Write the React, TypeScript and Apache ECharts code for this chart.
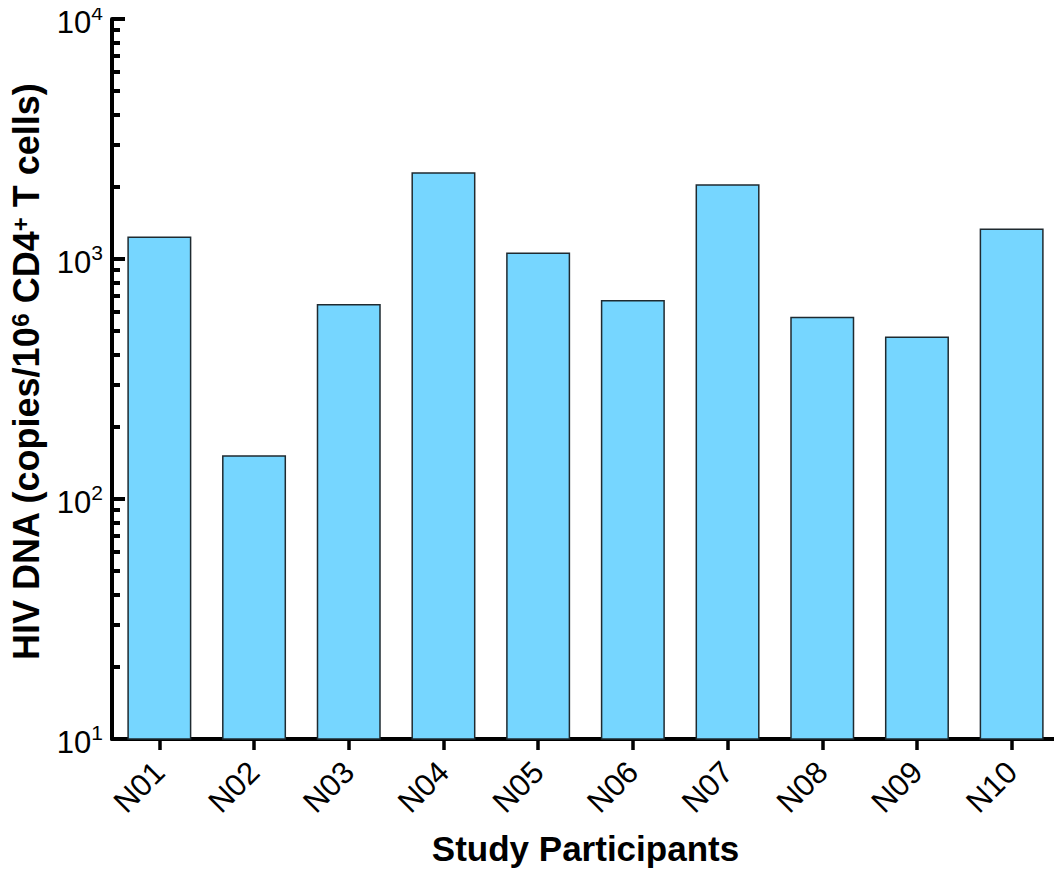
import React, { useEffect, useRef } from "react";
import * as echarts from "echarts";

const categories = ["N01", "N02", "N03", "N04", "N05", "N06", "N07", "N08", "N09", "N10"];
const hivDna = [1240, 152, 650, 2300, 1065, 675, 2050, 575, 475, 1340];
const minorMultipliers = [2, 3, 4, 5, 6, 7, 8, 9];
const minorDecades = [10, 100, 1000];

const FONT = "'Liberation Sans', Arial, Helvetica, sans-serif";

export default function App() {
  const ref = useRef<HTMLDivElement>(null);
  useEffect(() => {
    if (!ref.current) return;
    const chart = echarts.init(ref.current, null, { renderer: "svg" });
    const minorExp: number[] = [];
    minorDecades.forEach((d) => minorMultipliers.forEach((m) => minorExp.push(Math.log10(m * d))));
    chart.setOption({
      animation: false,
      backgroundColor: "#fff",
      grid: { left: 108, right: 3, top: 15, bottom: 128, containLabel: false },
      xAxis: {
        type: "category",
        data: categories,
        axisLine: { show: true, lineStyle: { color: "#000", width: 4 } },
        axisTick: { show: true, alignWithLabel: true, length: 11, lineStyle: { color: "#000", width: 3.5 } },
        axisLabel: { rotate: 45, fontSize: 31, color: "#000", margin: 28, fontFamily: FONT },
        name: "Study Participants",
        nameLocation: "middle",
        nameGap: 92,
        nameTextStyle: { fontSize: 35, fontWeight: "bold", color: "#000", fontFamily: FONT },
      },
      yAxis: [
        {
          type: "log",
          logBase: 10,
          min: 10,
          max: 10000,
          axisLine: { show: true, lineStyle: { color: "#000", width: 4 } },
          axisTick: { show: true, inside: true, length: 13, lineStyle: { color: "#000", width: 4 } },
          splitLine: { show: false },
          axisLabel: {
            margin: 9,
            color: "#000",
            formatter: (v: number) => `{b|10}{s|${Math.round(Math.log10(v))}}`,
            rich: {
              b: { fontSize: 31, fontFamily: FONT, color: "#000", lineHeight: 34, padding: [7, 0, 0, 0] },
              s: { fontSize: 21, fontFamily: FONT, color: "#000", lineHeight: 21, verticalAlign: "top" },
            },
          },
          name: "HIV DNA (copies/10{s|6} CD4{s|+} T cells)",
          nameLocation: "middle",
          nameGap: 68,
          nameTextStyle: {
            fontSize: 36,
            fontWeight: "bold",
            color: "#000",
            fontFamily: FONT,
            padding: [0, 0, 0, 14],
            rich: {
              s: { fontSize: 24, fontWeight: "bold", color: "#000", fontFamily: FONT, verticalAlign: "top", lineHeight: 24 },
            },
          },
        },
        {
          type: "value",
          min: 1,
          max: 4,
          position: "left",
          axisLine: { show: false },
          axisLabel: { show: false },
          splitLine: { show: false },
          axisTick: {
            show: true,
            inside: true,
            length: 8,
            customValues: minorExp,
            lineStyle: { color: "#000", width: 4 },
          },
        },
      ],
      series: [
        {
          type: "bar",
          data: hivDna,
          yAxisIndex: 0,
          barWidth: 64,
          clip: true,
          itemStyle: { color: "#76D6FF", borderColor: "#1f2a30", borderWidth: 1.5 },
        },
      ],
    });
    return () => chart.dispose();
  }, []);
  return <div ref={ref} style={{ width: 1062, height: 871, marginLeft: -8, marginTop: -8 }} />;
}
